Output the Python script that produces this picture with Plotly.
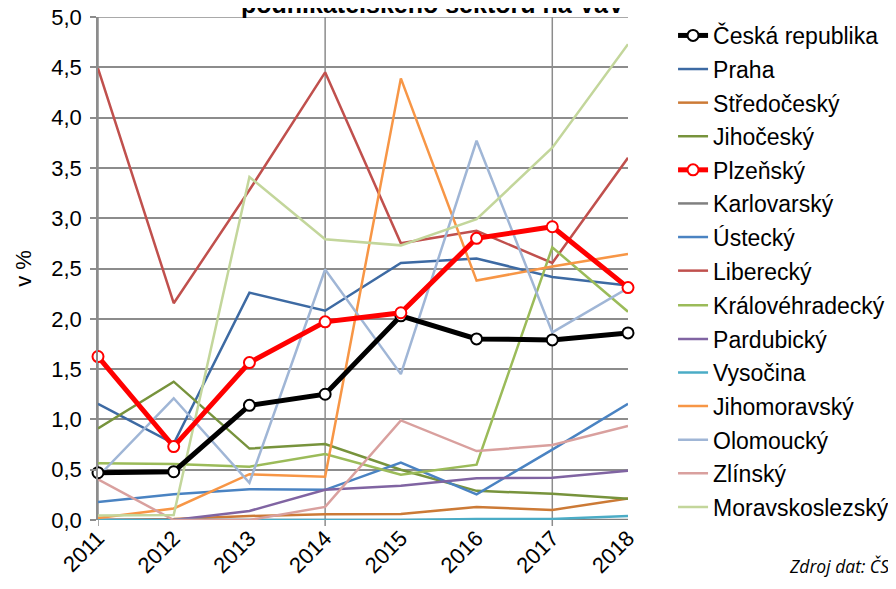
import plotly.graph_objects as go

years = [2011, 2012, 2013, 2014, 2015, 2016, 2017, 2018]
y_ticks = [0.0, 0.5, 1.0, 1.5, 2.0, 2.5, 3.0, 3.5, 4.0, 4.5, 5.0]

ceska_republika = [0.47, 0.48, 1.14, 1.25, 2.03, 1.80, 1.79, 1.86]
praha = [1.155, 0.76, 2.26, 2.08, 2.555, 2.60, 2.415, 2.33]
stredocesky = [0.0, 0.01, 0.04, 0.057, 0.06, 0.13, 0.10, 0.215]
jihocesky = [0.91, 1.375, 0.71, 0.755, 0.50, 0.29, 0.26, 0.21]
plzensky = [1.625, 0.73, 1.565, 1.97, 2.06, 2.80, 2.915, 2.31]
karlovarsky = [0.0, 0.0, 0.0, 0.0, 0.0, 0.0, 0.0, 0.0]
ustecky = [0.18, 0.255, 0.305, 0.30, 0.57, 0.255, 0.70, 1.155]
liberecky = [4.49, 2.155, 3.28, 4.45, 2.75, 2.875, 2.555, 3.60]
kralovehradecky = [0.565, 0.557, 0.53, 0.655, 0.45, 0.55, 2.71, 2.07]
pardubicky = [0.0, 0.0, 0.09, 0.30, 0.34, 0.415, 0.42, 0.49]
vysocina = [0.0, 0.0, 0.0, 0.0, 0.0, 0.01, 0.01, 0.04]
jihomoravsky = [0.02, 0.115, 0.455, 0.43, 4.39, 2.38, 2.52, 2.645]
olomoucky = [0.43, 1.21, 0.37, 2.49, 1.45, 3.77, 1.865, 2.305]
zlinsky = [0.405, 0.0, 0.0, 0.13, 0.99, 0.685, 0.745, 0.935]
moravskoslezsky = [0.045, 0.05, 3.41, 2.79, 2.73, 2.99, 3.70, 4.73]

series = [
    ("Česká republika", ceska_republika, "#000000", True),
    ("Praha", praha, "#3d6aa3", False),
    ("Středočeský", stredocesky, "#cc7a36", False),
    ("Jihočeský", jihocesky, "#77933c", False),
    ("Plzeňský", plzensky, "#ff0000", True),
    ("Karlovarský", karlovarsky, "#808080", False),
    ("Ústecký", ustecky, "#4a83c2", False),
    ("Liberecký", liberecky, "#c0504d", False),
    ("Královéhradecký", kralovehradecky, "#9bbb59", False),
    ("Pardubický", pardubicky, "#8064a2", False),
    ("Vysočina", vysocina, "#4bacc6", False),
    ("Jihomoravský", jihomoravsky, "#f79646", False),
    ("Olomoucký", olomoucky, "#a0b6d6", False),
    ("Zlínský", zlinsky, "#d9a09e", False),
    ("Moravskoslezský", moravskoslezsky, "#c3d69b", False),
]

FONT = "Liberation Sans, Arial"

fig = go.Figure()

# draw plain lines first, highlighted series on top
names = [s[0] for s in series]
order = [s for s in series if not s[3]] + [s for s in series if s[3]]
for name, vals, color, hl in order:
    rank = names.index(name) + 1
    which_legend = "legend" if rank <= 8 else "legend2"
    common = dict(x=years, y=vals, name=name, legendrank=rank, legendgroup=name,
                  legend=which_legend, cliponaxis=False)
    if hl:
        fig.add_trace(go.Scatter(
            mode="lines+markers",
            line=dict(color=color, width=5),
            marker=dict(symbol="circle", size=11, color="white",
                        line=dict(color=color, width=2)),
            **common,
        ))
    else:
        fig.add_trace(go.Scatter(
            mode="lines",
            line=dict(color=color, width=2.5),
            **common,
        ))

# vertical gridlines every 3 categories
for gx in [2011, 2014, 2017]:
    fig.add_shape(type="line", xref="x", yref="paper", x0=gx, x1=gx, y0=-0.012, y1=1,
                  line=dict(color="#8c8c8c", width=1.5), layer="below")
# top horizontal gridline
fig.add_shape(type="line", xref="paper", yref="y", x0=0, x1=1, y0=5, y1=5,
              line=dict(color="#8c8c8c", width=1.5), layer="below")

fig.add_annotation(
    text="<b>podnikatelského sektoru na VaV</b>",
    xref="paper", yref="paper", x=0.632, y=1.026, xanchor="center", yanchor="middle",
    showarrow=False, font=dict(family=FONT, size=25, color="black"),
)
fig.add_annotation(
    text="<i>Zdroj dat: ČS</i>",
    xref="paper", yref="paper", x=1.3, y=-0.0915, xanchor="left", yanchor="middle",
    showarrow=False, font=dict(family="Open Sans", size=17.5, color="black"),
)

legend_style = dict(
    xanchor="left", yanchor="top",
    font=dict(family=FONT, size=23, color="black"),
    tracegroupgap=0.7, itemwidth=30, bgcolor="rgba(0,0,0,0)",
)

# page body has an 8px margin, so the figure is sized/offset accordingly
fig.update_layout(
    width=888, height=581,
    margin=dict(l=90, r=268, t=9, b=69, autoexpand=False),
    paper_bgcolor="white", plot_bgcolor="white",
    separators=", ",
    font=dict(family=FONT, size=22, color="black"),
    showlegend=True,
    legend=dict(x=1.085, y=1.006, **legend_style),
    legend2=dict(x=1.085, y=0.4695, **legend_style),
    xaxis=dict(
        range=[2011, 2018], tickvals=years, ticktext=[str(y) for y in years],
        tickangle=-45, showgrid=False, zeroline=False, automargin=False,
        showline=False, ticks="", tickfont=dict(family=FONT, size=22),
    ),
    yaxis=dict(
        range=[0, 5], tickmode="array", tickvals=y_ticks, tickformat=".1f",
        automargin=False, ticklabeloverflow="allow",
        showgrid=True, gridcolor="#8c8c8c", gridwidth=1.5,
        zeroline=False, showline=True, linecolor="#8c8c8c", linewidth=1.5,
        ticks="outside", ticklen=6, tickcolor="#8c8c8c", tickwidth=1.5,
        ticklabelstandoff=4,
        title=dict(text="v %", standoff=14, font=dict(family=FONT, size=22)),
        tickfont=dict(family=FONT, size=22),
    ),
)

fig.write_html("out.html")
